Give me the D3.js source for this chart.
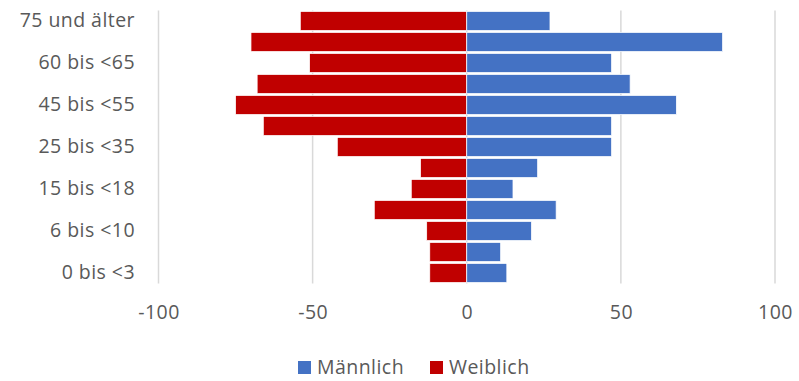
<!DOCTYPE html>
<html>
<head>
<meta charset="utf-8">
<script src="https://cdn.jsdelivr.net/npm/d3@7"></script>
<style>
  html, body { margin: 0; padding: 0; background: #fff; }
  svg { display: block; }
  text { font-family: "Open Sans", "Noto Sans", sans-serif; fill: #595959; }
</style>
</head>
<body>
<svg id="chart" width="799" height="381"></svg>
<script>
// Age groups, youngest first
const ageGroups = [
  "0 bis <3", "3 bis <6", "6 bis <10", "10 bis <15", "15 bis <18",
  "18 bis <25", "25 bis <35", "35 bis <45", "45 bis <55", "55 bis <60",
  "60 bis <65", "65 bis <75", "75 und älter"
];
// Counts per age group (female values plotted to the left as negatives)
const maleValues   = [13, 11, 21, 29, 15, 23, 47, 47, 68, 53, 47, 83, 27];
const femaleValues = [-12, -12, -13, -30, -18, -15, -42, -66, -75, -68, -51, -70, -54];
const xTicks = [-100, -50, 0, 50, 100];
const seriesNames = ["Männlich", "Weiblich"];
const seriesColors = ["#4472C4", "#C00000"];

const svg = d3.select("#chart");
const plot = { left: 158.5, right: 775, top: 10.5, bottom: 283.5 };
const fontSize = 19.5;
const letterSpacing = 0.45;

const x = d3.scaleLinear().domain([-100, 100]).range([plot.left, plot.right]);
const y = d3.scaleBand()
  .domain(ageGroups.slice().reverse())
  .range([plot.top, plot.bottom])
  .paddingInner(0.09)
  .paddingOuter(0.045);

// Vertical gridlines
svg.append("g")
  .selectAll("line")
  .data(xTicks)
  .join("line")
  .attr("x1", d => x(d)).attr("x2", d => x(d))
  .attr("y1", plot.top).attr("y2", plot.bottom)
  .attr("stroke", "#d9d9d9")
  .attr("stroke-width", 1.5);

const rows = ageGroups.map((g, i) => ({ group: g, m: maleValues[i], f: femaleValues[i] }));

// Female bars (left)
svg.append("g")
  .selectAll("rect")
  .data(rows)
  .join("rect")
  .attr("x", d => x(d.f))
  .attr("width", d => x(0) - x(d.f))
  .attr("y", d => y(d.group))
  .attr("height", y.bandwidth())
  .attr("fill", seriesColors[1])
  .attr("stroke", "#fff")
  .attr("stroke-width", 0.75);

// Male bars (right)
svg.append("g")
  .selectAll("rect")
  .data(rows)
  .join("rect")
  .attr("x", x(0))
  .attr("width", d => x(d.m) - x(0))
  .attr("y", d => y(d.group))
  .attr("height", y.bandwidth())
  .attr("fill", seriesColors[0])
  .attr("stroke", "#fff")
  .attr("stroke-width", 0.75);

function styleText(sel) {
  sel.attr("font-size", fontSize)
    .attr("fill", "#595959")
    .attr("letter-spacing", letterSpacing)
    .style("font-family", "'Open Sans', sans-serif");
}

// Category axis labels (every second group)
const yAxis = d3.axisLeft(y)
  .tickValues(ageGroups.filter((d, i) => i % 2 === 0))
  .tickSize(0)
  .tickPadding(0);
const yg = svg.append("g").attr("transform", "translate(135,0)").call(yAxis);
yg.select(".domain").remove();
yg.selectAll("text").call(styleText);

// Value axis labels (plain hyphen minus)
const xAxis = d3.axisBottom(x).tickValues(xTicks).tickSize(0).tickPadding(0)
  .tickFormat(d => String(d));
const xg = svg.append("g").attr("transform", "translate(0,305)").call(xAxis);
xg.select(".domain").remove();
xg.selectAll("text").call(styleText);

// Legend
const legend = svg.append("g").attr("transform", "translate(298,361)");
const items = [
  { name: seriesNames[0], color: seriesColors[0], dx: 0 },
  { name: seriesNames[1], color: seriesColors[1], dx: 132 }
];
const li = legend.selectAll("g").data(items).join("g")
  .attr("transform", d => `translate(${d.dx},0)`);
li.append("rect").attr("width", 13).attr("height", 13).attr("fill", d => d.color);
li.append("text")
  .attr("x", 19).attr("y", 6.5)
  .attr("dy", "0.35em")
  .call(styleText)
  .text(d => d.name);
</script>
</body>
</html>
